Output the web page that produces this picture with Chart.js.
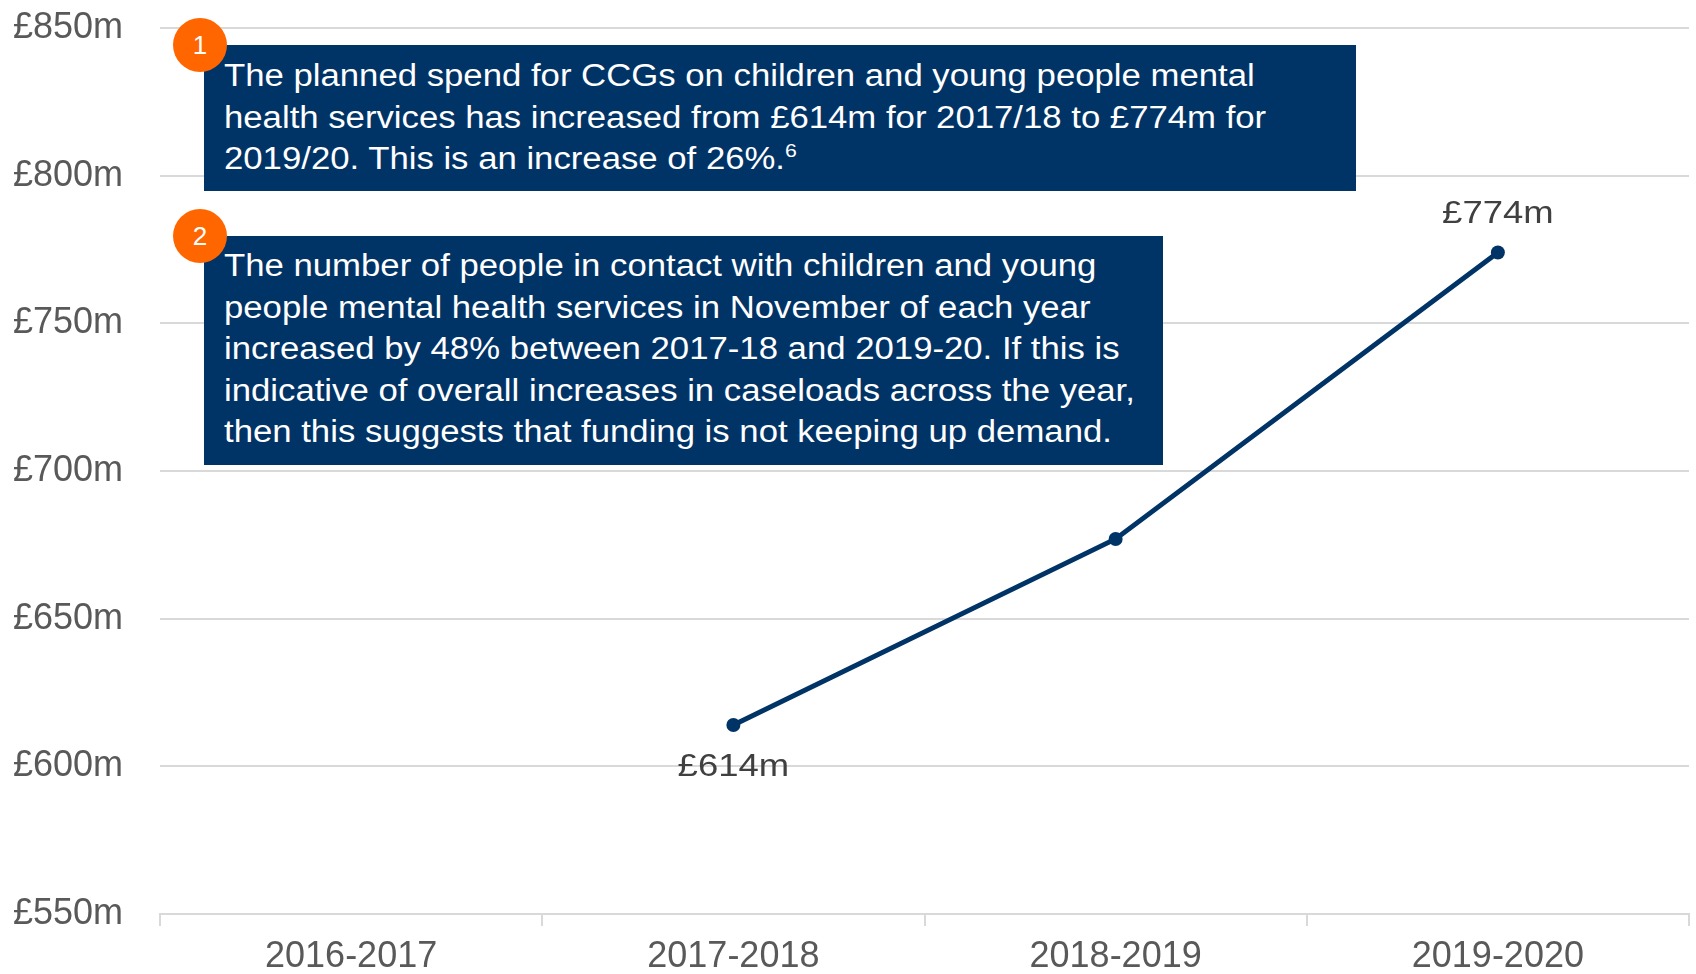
<!DOCTYPE html>
<html>
<head>
<meta charset="utf-8">
<script src="https://cdn.jsdelivr.net/npm/chart.js@4.4.0/dist/chart.umd.min.js"></script>
<style>
  html, body { margin: 0; padding: 0; background: #fff; }
  #wrap { position: relative; width: 1696px; height: 974px; }
  canvas { position: absolute; left: 0; top: 0; }
  .note {
    position: absolute; background: #003366; color: #fff;
    font-family: "Liberation Sans", Arial, sans-serif; font-size: 31px;
    line-height: 41.5px; white-space: nowrap; box-sizing: border-box;
    padding-left: 20px; overflow: hidden;
  }
  .note span { display: inline-block; transform: scaleX(1.12); transform-origin: left top; }
  .note sup { font-size: 19px; vertical-align: 12px; line-height: 0; }
  .badge {
    position: absolute; width: 54px; height: 54px; border-radius: 50%;
    background: #ff6600; color: #fff; text-align: center; line-height: 54px;
    font-family: "Liberation Sans", Arial, sans-serif; font-size: 26px;
  }
</style>
</head>
<body>
<div id="wrap">
  <canvas id="myChart" width="1696" height="974"></canvas>
  <div class="note" style="left:204px; top:45px; width:1152px; height:146px; padding-top:10px;"><span>
    The planned spend for CCGs on children and young people mental<br>
    health services has increased from £614m for 2017/18 to £774m for<br>
    2019/20. This is an increase of 26%.<sup>6</sup></span>
  </div>
  <div class="note" style="left:204px; top:236px; width:959px; height:229px; padding-top:9px;"><span>
    The number of people in contact with children and young<br>
    people mental health services in November of each year<br>
    increased by 48% between 2017-18 and 2019-20. If this is<br>
    indicative of overall increases in caseloads across the year,<br>
    then this suggests that funding is not keeping up demand.</span>
  </div>
  <div class="badge" style="left:173px; top:18px;">1</div>
  <div class="badge" style="left:173px; top:209px;">2</div>
</div>
<script>
const anos = ['2016-2017', '2017-2018', '2018-2019', '2019-2020'];
const gastoPlanejado = [null, 614, 677, 774];
const rotulosPontos = [null, '£614m', null, '£774m'];
const posicaoRotulos = [null, 'below', null, 'above'];

const fonte = '"Liberation Sans", Arial, sans-serif';

// rótulos de dados sobre os pontos
const pluginRotulos = {
  id: 'rotulos',
  afterDatasetsDraw(chart) {
    const ctx = chart.ctx;
    const meta = chart.getDatasetMeta(0);
    meta.data.forEach((pt, i) => {
      if (!rotulosPontos[i]) return;
      const dy = posicaoRotulos[i] === 'above' ? -38 : 42;
      ctx.save();
      ctx.translate(pt.x, pt.y + dy);
      ctx.scale(1.14, 1);
      ctx.font = '32px ' + fonte;
      ctx.fillStyle = '#404040';
      ctx.textAlign = 'center';
      ctx.textBaseline = 'middle';
      ctx.fillText(rotulosPontos[i], 0, 0);
      ctx.restore();
    });
  }
};

const ctx = document.getElementById('myChart').getContext('2d');
new Chart(ctx, {
  type: 'line',
  data: {
    labels: anos,
    datasets: [{
      data: gastoPlanejado,
      borderColor: '#003366',
      backgroundColor: '#003366',
      borderWidth: 5,
      pointRadius: 7,
      pointBackgroundColor: '#003366',
      pointBorderWidth: 0,
      tension: 0
    }]
  },
  options: {
    responsive: false,
    animation: false,
    layout: { padding: { left: 13, top: 28, right: 4, bottom: 1 } },
    plugins: { legend: { display: false }, tooltip: { enabled: false } },
    scales: {
      x: {
        offset: true,
        afterFit(scale) { scale.height = 59; },
        grid: { offset: true, drawOnChartArea: false, tickLength: 12, color: '#d9d9d9', lineWidth: 2 },
        border: { display: true, color: '#d9d9d9', width: 2 },
        ticks: { color: '#595959', padding: 13, font: { family: fonte, size: 36, lineHeight: 1 } }
      },
      y: {
        min: 550,
        max: 850,
        afterFit(scale) { scale.width = 147; },
        grid: { color: '#d9d9d9', lineWidth: 2, drawTicks: false },
        border: { display: false },
        ticks: {
          stepSize: 50,
          crossAlign: 'far',
          color: '#595959',
          font: { family: fonte, size: 36 },
          callback: v => '£' + v + 'm'
        }
      }
    }
  },
  plugins: [pluginRotulos]
});
</script>
</body>
</html>
